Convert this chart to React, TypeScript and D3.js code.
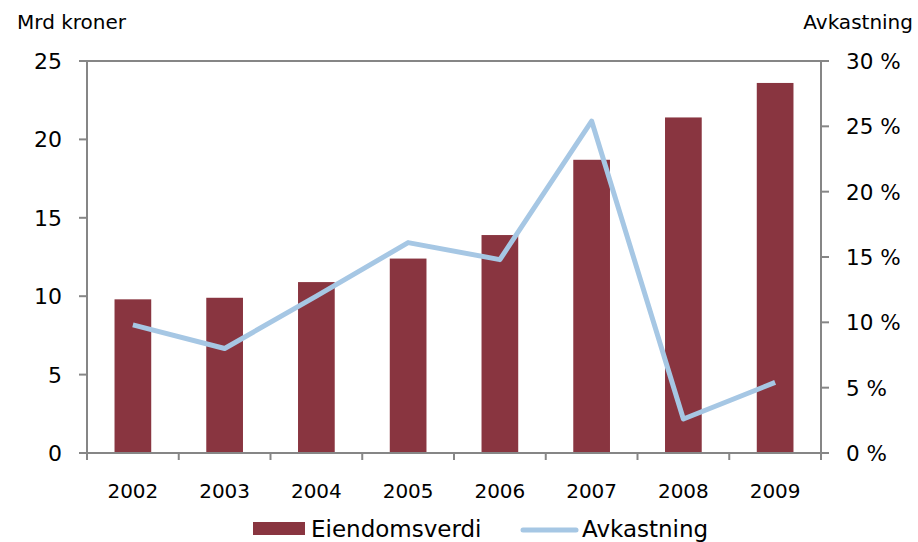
import React, { useEffect, useRef } from 'react';
import * as d3 from 'd3';

const years = ['2002', '2003', '2004', '2005', '2006', '2007', '2008', '2009'];
const eiendomsverdi = [9.8, 9.9, 10.9, 12.4, 13.9, 18.7, 21.4, 23.6];
const avkastning = [9.8, 8.0, 12.0, 16.1, 14.8, 25.4, 2.6, 5.4];
const leftTicks = [0, 5, 10, 15, 20, 25];
const rightTicks = [0, 5, 10, 15, 20, 25, 30];

const width = 918;
const height = 542;
const barColor = '#893540';
const lineColor = '#a6c7e4';
const axisColor = '#868686';
const font = '"DejaVu Sans", Verdana, sans-serif';

const App: React.FC = () => {
   const svgRef = useRef<SVGSVGElement | null>(null);

   useEffect(() => {
      if (!svgRef.current) return;
      const svg = d3.select(svgRef.current);
      svg.selectAll('*').remove();

      const left = 87;
      const right = 821;
      const top = 61;
      const bottom = 453;

      const x = d3.scaleBand().domain(years).range([left, right]).paddingInner(0.6).paddingOuter(0.3);
      const step = x.step();
      const yL = d3.scaleLinear().domain([0, 25]).range([bottom, top]);
      const yR = d3.scaleLinear().domain([0, 30]).range([bottom, top]);

      // bars
      svg.append('g')
         .selectAll('rect')
         .data(eiendomsverdi)
         .enter()
         .append('rect')
         .attr('x', (_, i) => x(years[i])!)
         .attr('y', d => yL(d))
         .attr('width', x.bandwidth())
         .attr('height', d => bottom - yL(d))
         .attr('fill', barColor);

      // axes
      const axes = svg.append('g').attr('stroke', axisColor).attr('stroke-width', 2).attr('fill', 'none');
      axes.append('line').attr('x1', left).attr('x2', left).attr('y1', top).attr('y2', bottom);
      axes.append('line').attr('x1', right).attr('x2', right).attr('y1', top).attr('y2', bottom);
      axes.append('line').attr('x1', left - 8).attr('x2', right + 8).attr('y1', bottom).attr('y2', bottom);
      axes.append('line').attr('x1', left - 8).attr('x2', right + 8).attr('y1', top).attr('y2', top);
      leftTicks.forEach(t => {
         axes.append('line').attr('x1', left - 8).attr('x2', left).attr('y1', yL(t)).attr('y2', yL(t));
      });
      rightTicks.forEach(t => {
         axes.append('line').attr('x1', right).attr('x2', right + 8).attr('y1', yR(t)).attr('y2', yR(t));
      });
      d3.range(years.length + 1).forEach(i => {
         const xx = left + i * step;
         axes.append('line').attr('x1', xx).attr('x2', xx).attr('y1', bottom).attr('y2', bottom + 7);
      });

      // line
      const line = d3.line<number>()
         .x((_, i) => x(years[i])! + x.bandwidth() / 2)
         .y(d => yR(d));
      svg.append('path')
         .datum(avkastning)
         .attr('d', line)
         .attr('fill', 'none')
         .attr('stroke', lineColor)
         .attr('stroke-width', 5)
         .attr('stroke-linejoin', 'round');

      const txt = svg.append('g').attr('font-family', font).attr('fill', '#000');

      txt.selectAll('.lt')
         .data(leftTicks)
         .enter()
         .append('text')
         .attr('x', 62)
         .attr('y', d => yL(d) + 8)
         .attr('text-anchor', 'end')
         .attr('font-size', 22)
         .text(d => d);

      txt.selectAll('.rt')
         .data(rightTicks)
         .enter()
         .append('text')
         .attr('x', 846)
         .attr('y', d => yR(d) + 8)
         .attr('font-size', 21.5)
         .text(d => `${d} %`);

      txt.selectAll('.xt')
         .data(years)
         .enter()
         .append('text')
         .attr('x', d => x(d)! + x.bandwidth() / 2)
         .attr('y', 498)
         .attr('text-anchor', 'middle')
         .attr('font-size', 20)
         .text(d => d);

      txt.append('text').attr('x', 17).attr('y', 29).attr('font-size', 20).text('Mrd kroner');
      txt.append('text').attr('x', 913).attr('y', 29).attr('text-anchor', 'end').attr('font-size', 20).text('Avkastning');

      // legend
      svg.append('rect').attr('x', 253).attr('y', 522).attr('width', 52).attr('height', 13).attr('fill', barColor);
      txt.append('text').attr('x', 311).attr('y', 537).attr('font-size', 23).text('Eiendomsverdi');
      svg.append('line')
         .attr('x1', 523).attr('x2', 576).attr('y1', 530).attr('y2', 530)
         .attr('stroke', lineColor).attr('stroke-width', 5).attr('stroke-linecap', 'round');
      txt.append('text').attr('x', 582).attr('y', 537).attr('font-size', 23).text('Avkastning');
   }, []);

   return (
      <svg
         ref={svgRef}
         width={width}
         height={height}
         viewBox={`0 0 ${width} ${height}`}
         style={{ position: 'absolute', left: 0, top: 0, background: '#fff' }}
      />
   );
};

export default App;
